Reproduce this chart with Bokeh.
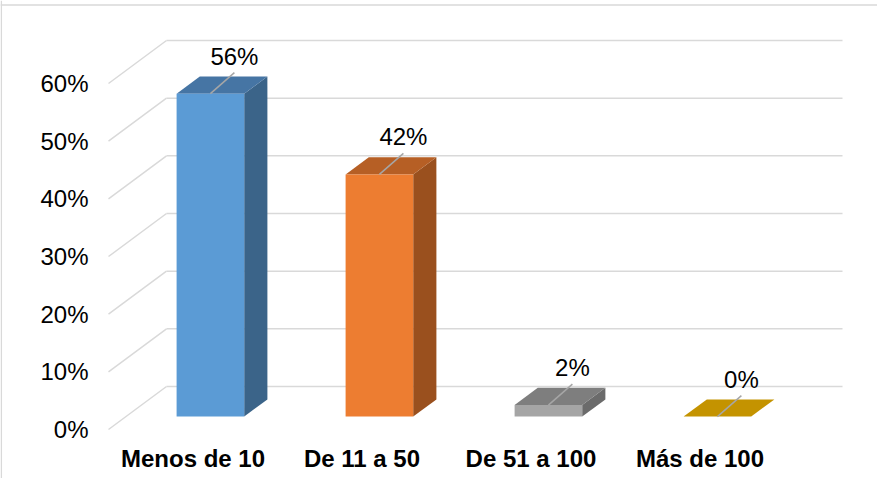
from bokeh.plotting import figure
from bokeh.models import Span
from bokeh.core.properties import value
from bokeh.embed import file_html
from bokeh.resources import INLINE

# ---- data ----
categories = ["Menos de 10", "De 11 a 50", "De 51 a 100", "Más de 100"]
values = [56, 42, 2, 0]
tick_values = [0, 10, 20, 30, 40, 50, 60]
tick_labels = ["0%", "10%", "20%", "30%", "40%", "50%", "60%"]
value_labels = ["56%", "42%", "2%", "0%"]

# ---- styling / 3D projection ----
front_colors = ["#5B9BD5", "#ED7D31", "#A5A5A5", "#FFC000"]
top_colors = ["#4675A4", "#B65F25", "#7E7E7E", "#C49300"]
side_colors = ["#3B6489", "#9A501E", "#6B6B6B", "#A37A00"]
GRID = "#D9D9D9"
FONT = value("Liberation Sans")

PXX = 169.0        # px per category
PXY = 5.767        # px per percent
DX = 58.0 / PXX    # full wall depth, x shift (data)
DY = 43.0 / PXY    # full wall depth, y shift (data)
BAR_W = 0.4
D_FRONT, D_BACK = 0.3, 0.7

W, H = 877, 478
x0_img, y0_img = 116.0, 437.0   # front-plane origin in image px
x_start = (8 - x0_img) / PXX
x_end = (8 + W - x0_img) / PXX
y_start = (y0_img - (8 + H)) / PXY
y_end = (y0_img - 8) / PXY

p = figure(width=W, height=H, output_backend="svg", toolbar_location=None,
           x_range=(x_start, x_end), y_range=(y_start, y_end),
           min_border=0, min_border_left=0, min_border_right=0,
           min_border_top=0, min_border_bottom=0)
p.axis.visible = False
p.grid.visible = False
p.outline_line_color = None
p.background_fill_color = "white"
p.border_fill_color = "white"

# chart border (left & top)
p.add_layout(Span(location=x_start + 0.8 / PXX, dimension="height",
                  line_color=GRID, line_width=1.5))
p.add_layout(Span(location=(y0_img - 12.5) / PXY, dimension="width",
                  line_color=GRID, line_width=1.5))

# back wall gridlines and side wall diagonals
n = len(categories)
back_x0 = [DX for _ in tick_values]
back_x1 = [n + DX for _ in tick_values]
back_y = [t + DY for t in tick_values]
p.segment(x0=back_x0, y0=back_y, x1=back_x1, y1=back_y, line_color=GRID, line_width=1.5)
p.segment(x0=[0 for _ in tick_values], y0=tick_values,
          x1=[DX for _ in tick_values], y1=back_y, line_color=GRID, line_width=1.5)

# tick labels at front plane
p.text(x=[-20 / PXX] * len(tick_values), y=tick_values, text=tick_labels,
       text_font=FONT, text_font_size="24px", text_color="#000000",
       text_align="right", text_baseline="middle")

# bars (3D)
front_xs, front_ys, top_xs, top_ys, side_xs, side_ys = [], [], [], [], [], []
dfx, dfy = D_FRONT * DX, D_FRONT * DY
dbx, dby = (D_BACK - D_FRONT) * DX, (D_BACK - D_FRONT) * DY
for i, v in enumerate(values):
    xa = i + 0.5 - BAR_W / 2 + dfx
    xb = i + 0.5 + BAR_W / 2 + dfx
    ya = dfy
    yb = v + dfy
    front_xs.append([xa, xb, xb, xa]); front_ys.append([ya, ya, yb, yb])
    top_xs.append([xa, xb, xb + dbx, xa + dbx]); top_ys.append([yb, yb, yb + dby, yb + dby])
    side_xs.append([xb, xb + dbx, xb + dbx, xb]); side_ys.append([ya, ya + dby, yb + dby, yb])

p.patches(xs=side_xs, ys=side_ys, fill_color=side_colors, line_color=None)
p.patches(xs=top_xs, ys=top_ys, fill_color=top_colors, line_color=None)
p.patches(xs=[f for f, v in zip(front_xs, values) if v > 0],
          ys=[f for f, v in zip(front_ys, values) if v > 0],
          fill_color=[c for c, v in zip(front_colors, values) if v > 0], line_color=None)

# leaders + value labels
cx = [i + 0.5 + dfx for i in range(n)]
cy = [v + dfy for v in values]
lx = [c + 24 / PXX for c in cx]
p.segment(x0=cx, y0=cy, x1=lx, y1=[c + 21 / PXY for c in cy],
          line_color="#A6A6A6", line_width=1.5)
p.text(x=lx, y=[c + 37.5 / PXY for c in cy], text=value_labels,
       text_font=FONT, text_font_size="24px", text_color="#000000",
       text_align="center", text_baseline="middle")

# category labels
p.text(x=[i + 0.5 for i in range(n)], y=[-(466 - y0_img) / PXY] * n, text=categories,
       text_font=FONT, text_font_size="24px", text_font_style="bold",
       text_color="#000000", text_align="center", text_baseline="middle")

open("out.html", "w").write(file_html(p, INLINE))
